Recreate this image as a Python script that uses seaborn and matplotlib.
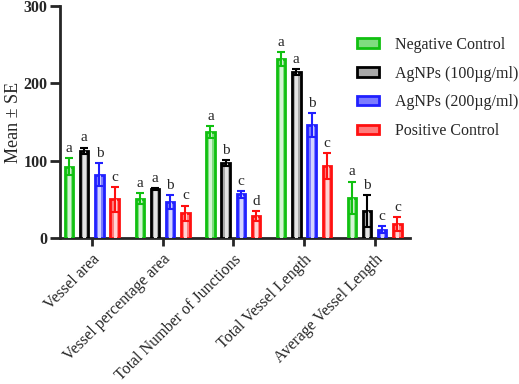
import numpy as np
import pandas as pd
import matplotlib
matplotlib.use("Agg")
import matplotlib.pyplot as plt
import seaborn as sns

categories = ["Vessel area", "Vessel percentage area", "Total Number of Junctions",
              "Total Vessel Length", "Average Vessel Length"]
groups = ["Negative Control", "AgNPs (100\u00b5g/ml)", "AgNPs (200\u00b5g/ml)", "Positive Control"]

# mean values per group (same order as categories)
neg_ctrl = [92, 51, 137, 232, 52]
ag_100 = [113, 63, 97, 215, 35]
ag_200 = [82, 46, 56.5, 146, 10.5]
pos_ctrl = [50, 32, 28.5, 93, 18]

# standard errors
neg_se = [11, 7, 8, 9, 21]
ag_100_se = [4, 1.5, 4, 4, 21]
ag_200_se = [15, 9, 4.5, 15, 4.5]
pos_se = [16, 10, 6.5, 17, 9]

letters = [
    ["a", "a", "a", "a", "a"],
    ["a", "a", "b", "a", "b"],
    ["b", "b", "c", "b", "c"],
    ["c", "c", "d", "c", "c"],
]

edge_colors = ["#10c010", "#000000", "#2020ff", "#ff1010"]
fill_colors = ["#7fdc7f", "#a8a8a8", "#7c7cff", "#ff7c7c"]
stripe_colors = ["#d4f4d4", "#e4e4e4", "#d4d4ff", "#ffd4d4"]

means = [neg_ctrl, ag_100, ag_200, pos_ctrl]
ses = [neg_se, ag_100_se, ag_200_se, pos_se]

rows = []
for g, vals in zip(groups, means):
    for c, v in zip(categories, vals):
        rows.append({"Category": c, "Group": g, "Mean": v})
df = pd.DataFrame(rows)

sns.set_style("ticks")
plt.rcParams["font.family"] = ["Liberation Serif", "DejaVu Serif"]

fig = plt.figure(figsize=(5.19, 3.84), dpi=100)
ax = fig.add_axes([60 / 519, 1 - 238 / 384, 350 / 519, 232 / 384])

sns.barplot(data=df, x="Category", y="Mean", hue="Group", order=categories,
            hue_order=groups, palette=fill_colors, errorbar=None, width=0.86,
            gap=0.45, saturation=1, linewidth=2, ax=ax, zorder=3, legend=False)

bar_conts = list(ax.containers)
for i, cont in enumerate(bar_conts):
    for j, p in enumerate(cont.patches):
        p.set_edgecolor(edge_colors[i])
        xc = p.get_x() + p.get_width() / 2
        top = p.get_height()
        err = ses[i][j]
        ax.vlines(xc, 0, top, color=stripe_colors[i], lw=2.2, zorder=3.5)
        ax.errorbar(xc, top, yerr=err, color=edge_colors[i], capsize=2.8,
                    elinewidth=1.5, capthick=1.5, zorder=4)
        ax.text(xc, top + err + 4, letters[i][j], ha="center", va="bottom",
                fontsize=11, zorder=5)

ax.set_xlim(-0.45, 4.5)
ax.set_ylim(0, 300)
ax.set_yticks([0, 100, 200, 300])
ax.set_xlabel("")
ax.set_ylabel("Mean \u00b1 SE", fontsize=13, labelpad=1)
sns.despine(ax=ax)
for s in ["left", "bottom"]:
    ax.spines[s].set_linewidth(2)
ax.tick_params(axis="y", width=2, length=7, labelsize=11.5, pad=2)
ax.tick_params(axis="x", width=2, length=6, labelsize=11.5)
for lab in ax.get_yticklabels():
    lab.set_fontweight("bold")
ax.set_xticks(range(len(categories)))
ax.set_xticklabels(categories, rotation=45, ha="right", rotation_mode="anchor")

leg = ax.legend(bar_conts, groups, loc="upper left", bbox_to_anchor=(0.83, 0.895),
                frameon=False, fontsize=11.5, handlelength=1.4, handleheight=0.55,
                labelspacing=0.8, handletextpad=1.0, borderaxespad=0)

fig.savefig("out.png", dpi=100)
